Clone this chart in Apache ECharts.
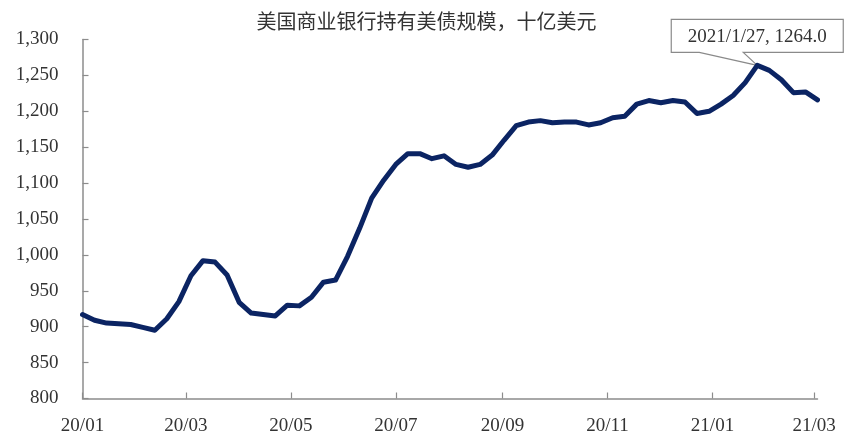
<!DOCTYPE html>
<html>
<head>
<meta charset="utf-8">
<script src="https://cdn.jsdelivr.net/npm/echarts@6/dist/echarts.min.js"></script>
<style>
html,body{margin:0;padding:0;background:#fff;}
#chart{width:853px;height:445px;}
</style>
</head>
<body>
<div id="chart"></div>
<script>
// ---- data ----
const titleText = '美国商业银行持有美债规模，十亿美元';
const dates = [
  '2020-01-01','2020-01-08','2020-01-15','2020-01-22','2020-01-29',
  '2020-02-05','2020-02-12','2020-02-19','2020-02-26',
  '2020-03-04','2020-03-11','2020-03-18','2020-03-25',
  '2020-04-01','2020-04-08','2020-04-15','2020-04-22','2020-04-29',
  '2020-05-06','2020-05-13','2020-05-20','2020-05-27',
  '2020-06-03','2020-06-10','2020-06-17','2020-06-24',
  '2020-07-01','2020-07-08','2020-07-15','2020-07-22','2020-07-29',
  '2020-08-05','2020-08-12','2020-08-19','2020-08-26',
  '2020-09-02','2020-09-09','2020-09-16','2020-09-23','2020-09-30',
  '2020-10-07','2020-10-14','2020-10-21','2020-10-28',
  '2020-11-04','2020-11-11','2020-11-18','2020-11-25',
  '2020-12-02','2020-12-09','2020-12-16','2020-12-23','2020-12-30',
  '2021-01-06','2021-01-13','2021-01-20','2021-01-27',
  '2021-02-03','2021-02-10','2021-02-17','2021-02-24',
  '2021-03-03'
];
const holdings = [
  917, 909, 905, 904, 903,
  899, 895, 911, 935,
  971, 992, 990, 972,
  934, 919, 917, 915, 930,
  929, 941, 962, 965,
  998, 1037, 1079, 1104,
  1126, 1141, 1141, 1134, 1138,
  1126, 1122, 1126, 1139,
  1160, 1180, 1185, 1187, 1184,
  1185, 1185, 1181, 1184,
  1191, 1193, 1210, 1215,
  1212, 1215, 1213, 1197, 1200,
  1210, 1222, 1240, 1264.0,
  1257, 1244, 1226, 1227,
  1216
];
const xTickDates = ['2020-01-01','2020-03-01','2020-05-01','2020-07-01','2020-09-01','2020-11-01','2021-01-01','2021-03-01'];
const xTickLabels = ['20/01','20/03','20/05','20/07','20/09','20/11','21/01','21/03'];
const yMin = 800, yMax = 1300, yStep = 50;

// ---- helpers ----
const DAY = 86400000;
function dayNum(s){ const p = s.split('-').map(Number); return Math.round(Date.UTC(p[0], p[1]-1, p[2]) / DAY); }
const seriesData = dates.map((d,i)=>[dayNum(d), holdings[i]]);
const tickDays = xTickDates.map(dayNum);

const serif = '"Liberation Serif","Times New Roman",serif';
const axisGray = '#8c8c8c';
const textColor = '#333333';

const chart = echarts.init(document.getElementById('chart'), null, {renderer:'canvas'});
chart.setOption({
  animation:false,
  backgroundColor:'#ffffff',
  title:{
    text:titleText,
    left:'center',
    top:6,
    textStyle:{fontFamily:'"Noto Sans CJK SC",sans-serif',fontSize:20,fontWeight:'normal',color:textColor}
  },
  grid:{left:82.5,right:35.5,top:39.5,bottom:46.5,containLabel:false},
  xAxis:{
    type:'value',
    min:dayNum(dates[0]),
    max:dayNum(dates[dates.length-1]),
    splitLine:{show:false},
    axisLine:{show:true,lineStyle:{color:axisGray,width:1.5}},
    axisTick:{show:true,inside:true,length:6,customValues:tickDays,lineStyle:{color:axisGray,width:1.2}},
    axisLabel:{
      customValues:tickDays,
      showMinLabel:true, showMaxLabel:true,
      margin:18,
      fontFamily:serif,fontSize:19,color:textColor,
      formatter:function(v){ const i = tickDays.indexOf(v); return i>=0 ? xTickLabels[i] : ''; }
    }
  },
  yAxis:{
    type:'value',
    min:yMin,max:yMax,interval:yStep,
    splitLine:{show:false},
    axisLine:{show:true,lineStyle:{color:axisGray,width:1.5}},
    axisTick:{show:true,inside:true,length:6,lineStyle:{color:axisGray,width:1.2}},
    axisLabel:{
      margin:24,
      fontFamily:serif,fontSize:19,color:textColor,
      formatter:function(v){ return v.toLocaleString('en-US'); }
    }
  },
  series:[{
    type:'line',
    data:seriesData,
    showSymbol:false,
    smooth:false,
    lineStyle:{color:'#0b2463',width:5,join:'round',cap:'round'},
    z:5
  }]
});

// ---- callout annotation at the maximum ----
let peakIdx = 0;
holdings.forEach((v,i)=>{ if(v>holdings[peakIdx]) peakIdx=i; });
const pd = dates[peakIdx].split('-').map(Number);
const calloutText = pd[0]+'/'+pd[1]+'/'+pd[2]+', '+holdings[peakIdx].toFixed(1);
const pt = chart.convertToPixel({xAxisIndex:0,yAxisIndex:0}, seriesData[peakIdx]);
const px = pt[0], py = pt[1];
const bl = px-86, br = px+86, bt = py-46, bb = py-13;
chart.setOption({
  graphic:[
    {
      type:'polygon', z:1,
      shape:{points:[[px-14,bb],[br,bb],[br,bt],[bl,bt],[bl,bb],[px-58,bb],[px,py]]},
      style:{fill:'#ffffff',stroke:'#8a8a8a',lineWidth:1.2}
    },
    {
      type:'text', z:2,
      x:(bl+br)/2, y:(bt+bb)/2+1,
      style:{text:calloutText,fontFamily:serif,fontSize:19,fill:textColor,align:'center',verticalAlign:'middle'}
    }
  ]
});
</script>
</body>
</html>
